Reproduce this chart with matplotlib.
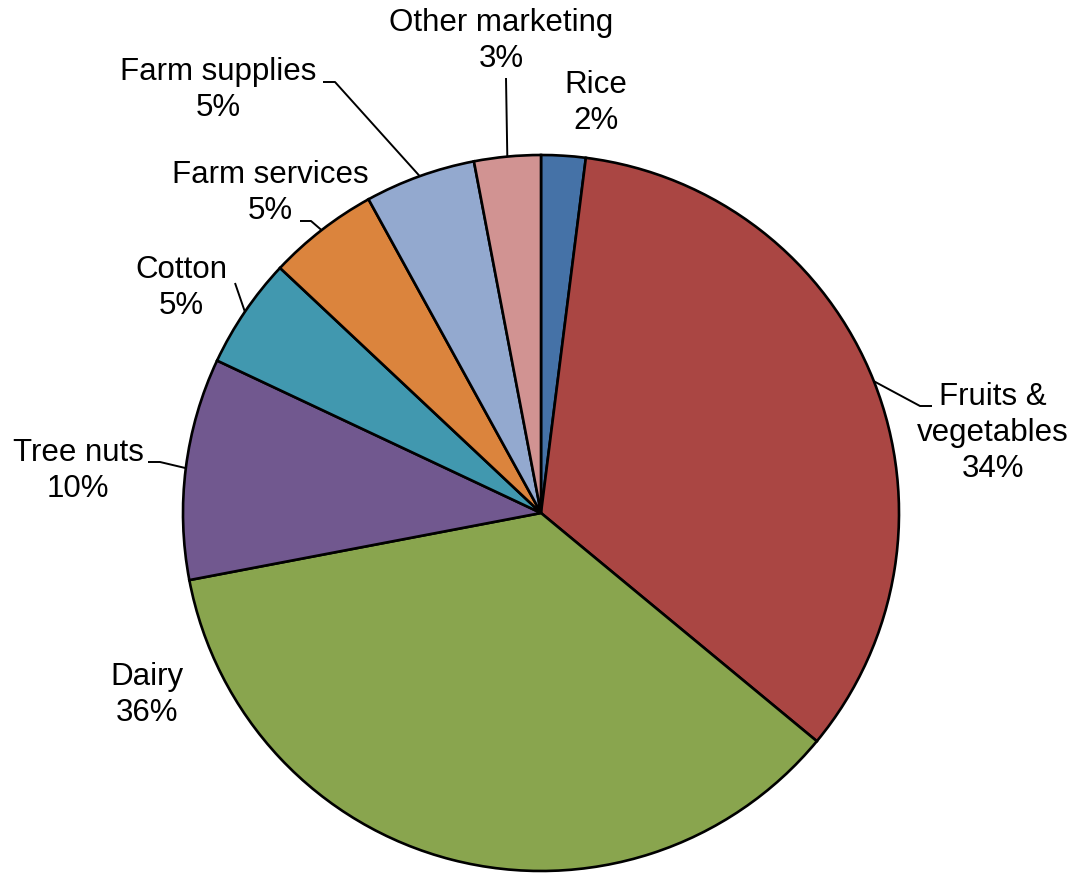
import numpy as np
import matplotlib.pyplot as plt

plt.rcParams['font.family'] = ['Liberation Sans', 'DejaVu Sans']

W, H = 1075, 873

categories = ["Rice", "Fruits &\nvegetables", "Dairy", "Tree nuts", "Cotton",
              "Farm services", "Farm supplies", "Other marketing"]
shares = [2, 34, 36, 10, 5, 5, 5, 3]
colors = ["#4572A7", "#AA4643", "#89A54E", "#71588F", "#4198AF",
          "#DB843D", "#93A9CF", "#D19392"]

# label centre (px, y from top) and leader elbow for each slice; None = no leader
label_pos = [(596, 103), (993, 433), (147, 695), (78, 471), (181, 288),
             (270, 193), (218, 90), (501, 41)]
elbows = [None, [(920, 406), (932, 406)], None, [(160, 462), (148, 462)],
          [(235, 283)], [(311, 221), (300, 221)], [(335, 82), (323, 82)],
          [(506, 78)]]

CX, CY, R = 541, 513, 358

fig = plt.figure(figsize=(W / 100, H / 100), dpi=100)
ax = fig.add_axes([0, 0, 1, 1])

wedges, _ = ax.pie(shares, colors=colors, startangle=90, counterclock=False,
                   center=(CX, H - CY), radius=R,
                   wedgeprops=dict(edgecolor='black', linewidth=1.9))

# pie() resets the limits, so put the pixel frame back afterwards
ax.set_xlim(0, W)
ax.set_ylim(0, H)
ax.set_aspect('equal')
ax.axis('off')

for w, name, val, (tx, ty), elb in zip(wedges, categories, shares, label_pos, elbows):
    ax.text(tx, H - ty, f"{name}\n{val}%", ha='center', va='center',
            fontsize=22.5, linespacing=1.27)
    if elb is None:
        continue
    mid = np.deg2rad((w.theta1 + w.theta2) / 2)
    px = CX + R * np.cos(mid)
    py = H - CY + R * np.sin(mid)
    xs = [px] + [e[0] for e in elb]
    ys = [py] + [H - e[1] for e in elb]
    ax.plot(xs, ys, color='black', lw=1.4, solid_capstyle='butt')

fig.savefig("out.png", dpi=100)
